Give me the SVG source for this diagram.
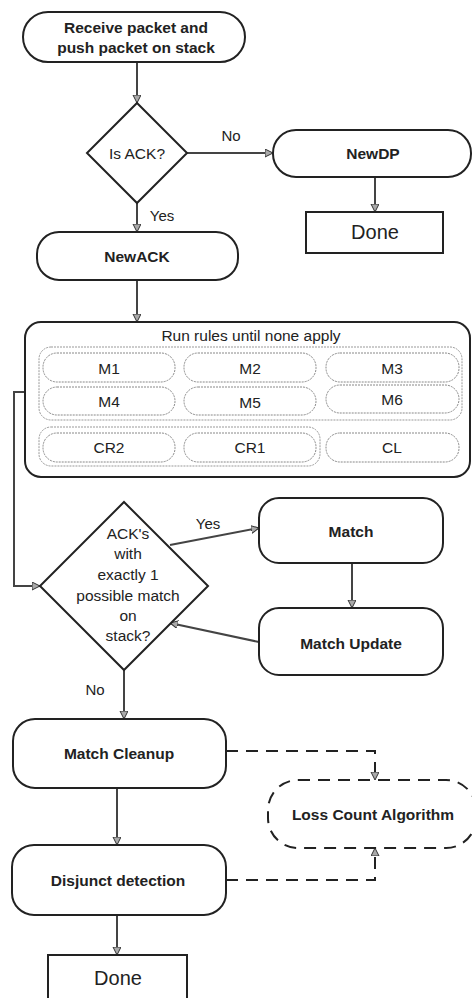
<svg xmlns="http://www.w3.org/2000/svg" width="472" height="998" viewBox="0 0 472 998">
<style>
.n{fill:#fff;stroke:#222;stroke-width:2}
.d{fill:#fff;stroke:#222;stroke-width:2;stroke-dasharray:12,8}
.g{fill:none;stroke:#999;stroke-width:1;stroke-dasharray:2,1}
.p{fill:#fff;stroke:#888;stroke-width:1;stroke-dasharray:2,1}
.c{fill:none;stroke:#444;stroke-width:2}
.cd{fill:none;stroke:#222;stroke-width:2;stroke-dasharray:12,8}
text{font-family:"Liberation Sans",Arial,sans-serif;font-size:15.5px;fill:#222;text-anchor:middle;dominant-baseline:central}
.b{font-weight:bold}
.l{font-size:15px}
.big{font-size:20px}
</style>
<defs>
<marker id="a" markerWidth="10" markerHeight="10" refX="8" refY="4" orient="auto" markerUnits="userSpaceOnUse">
<path d="M0,0 L8,4 L0,8 Z" fill="#aaa" stroke="#333" stroke-width="1"/>
</marker>
</defs>
<g id="connectors">
<line class="c" x1="137" y1="62" x2="137" y2="103" marker-end="url(#a)"/>
<line class="c" x1="187" y1="153" x2="273" y2="153" marker-end="url(#a)"/>
<line class="c" x1="375" y1="177" x2="375" y2="212" marker-end="url(#a)"/>
<line class="c" x1="137" y1="203" x2="137" y2="232" marker-end="url(#a)"/>
<line class="c" x1="137" y1="280" x2="137" y2="322" marker-end="url(#a)"/>
<polyline class="c" points="25,392 14,392 14,586 40,586" marker-end="url(#a)"/>
<line class="c" x1="170" y1="545" x2="259" y2="528" marker-end="url(#a)"/>
<line class="c" x1="352" y1="563" x2="352" y2="608" marker-end="url(#a)"/>
<line class="c" x1="259" y1="642" x2="170" y2="623" marker-end="url(#a)"/>
<line class="c" x1="124" y1="670" x2="124" y2="719" marker-end="url(#a)"/>
<polyline class="cd" points="226,751 375,751 375,780" marker-end="url(#a)"/>
<line class="c" x1="117" y1="788" x2="117" y2="845" marker-end="url(#a)"/>
<polyline class="cd" points="226,880 375,880 375,848" marker-end="url(#a)"/>
<line class="c" x1="117" y1="915" x2="117" y2="955" marker-end="url(#a)"/>
<text class="l" x="231" y="135">No</text>
<text class="l" x="162" y="215">Yes</text>
<text class="l" x="208" y="523">Yes</text>
<text class="l" x="95" y="689">No</text>
</g>
<g id="receive">
<rect class="n" x="23" y="12" width="222" height="50" rx="25"/>
<text class="b" x="136" y="27">Receive packet and</text>
<text class="b" x="136" y="47">push packet on stack</text>
</g>
<g id="isack">
<polygon class="n" points="137,103 187,153 137,203 87,153"/>
<text x="137" y="153">Is ACK?</text>
</g>
<g id="newdp">
<rect class="n" x="273" y="130" width="198" height="47" rx="23"/>
<text class="b" x="373" y="153">NewDP</text>
</g>
<g id="done1">
<rect class="n" x="306" y="212" width="137" height="41"/>
<text class="big" x="375" y="232">Done</text>
</g>
<g id="newack">
<rect class="n" x="37" y="232" width="201" height="48" rx="22"/>
<text class="b" x="137" y="256">NewACK</text>
</g>
<g id="rules">
<rect class="n" x="25" y="322" width="445" height="155" rx="16"/>
<text x="251" y="335">Run rules until none apply</text>
<rect class="g" x="39" y="347" width="423" height="73" rx="12"/>
<rect class="g" x="39" y="427" width="281" height="39" rx="12"/>
<g id="m1"><rect class="p" x="43" y="353" width="132" height="29" rx="14"/><text x="109" y="368">M1</text></g>
<g id="m2"><rect class="p" x="184" y="353" width="132" height="29" rx="14"/><text x="250" y="368">M2</text></g>
<g id="m3"><rect class="p" x="326" y="353" width="133" height="29" rx="14"/><text x="392" y="368">M3</text></g>
<g id="m4"><rect class="p" x="43" y="387" width="132" height="28" rx="14"/><text x="109" y="401">M4</text></g>
<g id="m5"><rect class="p" x="184" y="387" width="132" height="28" rx="14"/><text x="250" y="402">M5</text></g>
<g id="m6"><rect class="p" x="326" y="385" width="133" height="28" rx="14"/><text x="392" y="399">M6</text></g>
<g id="cr2"><rect class="p" x="43" y="433" width="132" height="29" rx="14"/><text x="109" y="447">CR2</text></g>
<g id="cr1"><rect class="p" x="184" y="433" width="132" height="29" rx="14"/><text x="250" y="447">CR1</text></g>
<g id="cl"><rect class="p" x="326" y="433" width="133" height="29" rx="14"/><text x="392" y="447">CL</text></g>
</g>
<g id="onematch">
<polygon class="n" points="124,502 208,586 124,670 40,586"/>
<text x="128" y="533">ACK's</text>
<text x="128" y="553">with</text>
<text x="128" y="574">exactly 1</text>
<text x="128" y="595">possible match</text>
<text x="128" y="615">on</text>
<text x="128" y="635">stack?</text>
</g>
<g id="match">
<rect class="n" x="259" y="498" width="184" height="65" rx="20"/>
<text class="b" x="351" y="531">Match</text>
</g>
<g id="matchupdate">
<rect class="n" x="259" y="608" width="184" height="67" rx="20"/>
<text class="b" x="351" y="643">Match Update</text>
</g>
<g id="cleanup">
<rect class="n" x="13" y="719" width="213" height="69" rx="22"/>
<text class="b" x="119" y="753">Match Cleanup</text>
</g>
<g id="losscount">
<rect class="d" x="268" y="780" width="208" height="68" rx="30"/>
<text class="b" x="373" y="814">Loss Count Algorithm</text>
</g>
<g id="disjunct">
<rect class="n" x="12" y="845" width="214" height="70" rx="22"/>
<text class="b" x="118" y="880">Disjunct detection</text>
</g>
<g id="done2">
<rect class="n" x="48" y="955" width="139" height="44"/>
<text class="big" x="118" y="978">Done</text>
</g>
</svg>
